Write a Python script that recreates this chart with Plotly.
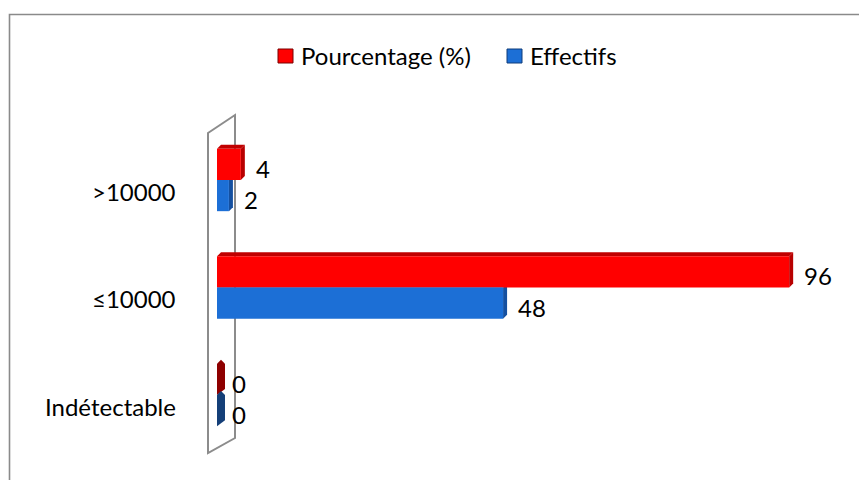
import plotly.graph_objects as go

# Data
categories = ["Indétectable", "≤10000", ">10000"]
pourcentage = [0, 96, 4]
effectifs = [0, 48, 2]
series_names = ["Pourcentage (%)", "Effectifs"]

W, H = 859, 480
L, R, T, B = 217, 813, 115, 460          # plot area in pixels
XMAX = 100
Y_HALF = (B - T) / 107.5 / 2             # 107.5 px between categories
Y0, Y1 = 1 - Y_HALF, 1 + Y_HALF

FONT = "Lato"
FS = 24
TXT = "#000000"

RED, RED_TOP, RED_CAP, RED_ZERO = "#FF0000", "#C00000", "#B80000", "#8E0000"
BLUE, BLUE_TOP, BLUE_CAP, BLUE_ZERO = "#1C6FD6", "#1A55A6", "#1550A0", "#143F78"

BAR_W = 0.29
OFFSETS = [0.145, -0.145]                # red above blue in each group
PX_X = (R - L) / XMAX
DX = 4 / PX_X                            # 3-D depth, data units
DY = 4 / 107.5


def px(x):
    return (x - L) / (R - L)


def py(y):
    return (B - y) / (B - T)


ypos = list(range(len(categories)))
fig = go.Figure()

series = [
    (pourcentage, RED, RED_TOP, RED_CAP, RED_ZERO),
    (effectifs, BLUE, BLUE_TOP, BLUE_CAP, BLUE_ZERO),
]

shapes = []
annotations = []

# chart frame
shapes.append(dict(type="rect", xref="paper", yref="paper",
                   x0=px(9.5), x1=px(875), y0=py(14.5), y1=py(495),
                   line=dict(color="#8A8A8A", width=1.6), layer="below"))
# side wall
wall = [(208, 133), (235, 115), (235, 438), (208, 453)]
path = "M " + " L ".join(f"{px(a)},{py(b)}" for a, b in wall) + " Z"
shapes.append(dict(type="path", xref="paper", yref="paper", path=path,
                   line=dict(color="#8C8C8C", width=2), fillcolor="white",
                   layer="below"))

for (vals, front, top, cap, zero), off, name in zip(series, OFFSETS, series_names):
    yb = [p + off for p in ypos]
    fig.add_trace(go.Bar(
        x=vals, y=yb, orientation="h", width=BAR_W, name=name,
        marker=dict(color=front, line=dict(width=0)), showlegend=False,
        hoverinfo="x+name",
    ))
    for v, yc in zip(vals, yb):
        lo, hi = yc - BAR_W / 2, yc + BAR_W / 2
        if v > 0:
            # top face
            shapes.append(dict(
                type="path", xref="x", yref="y", layer="below",
                path=f"M 0,{hi} L {v},{hi} L {v + DX},{hi + DY} L {DX},{hi + DY} Z",
                fillcolor=top, line=dict(width=0)))
            # end cap
            shapes.append(dict(
                type="path", xref="x", yref="y", layer="below",
                path=f"M {v},{lo} L {v + DX},{lo + DY} L {v + DX},{hi + DY} L {v},{hi} Z",
                fillcolor=cap, line=dict(width=0)))
        else:
            # a zero-length bar only shows its depth
            zw = 8 / PX_X
            shapes.append(dict(
                type="path", xref="x", yref="y", layer="below",
                path=(f"M 0,{lo} L {zw},{lo + DY * 1.5} L {zw},{hi} "
                      f"L {zw * 0.5},{hi + DY} L 0,{hi} Z"),
                fillcolor=zero, line=dict(width=0)))
        annotations.append(dict(
            x=v, y=yc, xref="x", yref="y", text=str(v), showarrow=False,
            xanchor="left", yanchor="middle", xshift=13, yshift=-4,
            font=dict(family=FONT, size=FS, color=TXT)))

# category labels
for p, c in zip(ypos, categories):
    annotations.append(dict(
        x=px(178), y=p, xref="paper", yref="y", text=c, showarrow=False,
        xanchor="right", yanchor="middle", yshift=-11,
        font=dict(family=FONT, size=FS, color=TXT)))

# legend
legend_items = [(278, RED, series_names[0]), (507, BLUE, series_names[1])]
for x0, col, name in legend_items:
    shapes.append(dict(type="rect", xref="paper", yref="paper",
                       x0=px(x0), x1=px(x0 + 15), y0=py(63), y1=py(49),
                       fillcolor=col, line=dict(color="#7A0000" if col == RED else "#0E3C7A", width=1)))
    annotations.append(dict(
        x=px(x0 + 21), y=py(56), xref="paper", yref="paper", text=name,
        showarrow=False, xanchor="left", yanchor="middle",
        font=dict(family=FONT, size=FS, color=TXT)))

fig.update_layout(
    width=W, height=H,
    margin=dict(l=L, r=W - R, t=T, b=H - B),
    paper_bgcolor="white", plot_bgcolor="rgba(0,0,0,0)",
    barmode="overlay",
    xaxis=dict(range=[0, XMAX], visible=False, fixedrange=True),
    yaxis=dict(range=[Y0, Y1], visible=False, fixedrange=True),
    shapes=shapes, annotations=annotations,
    showlegend=False,
)

fig.write_html("out.html")
